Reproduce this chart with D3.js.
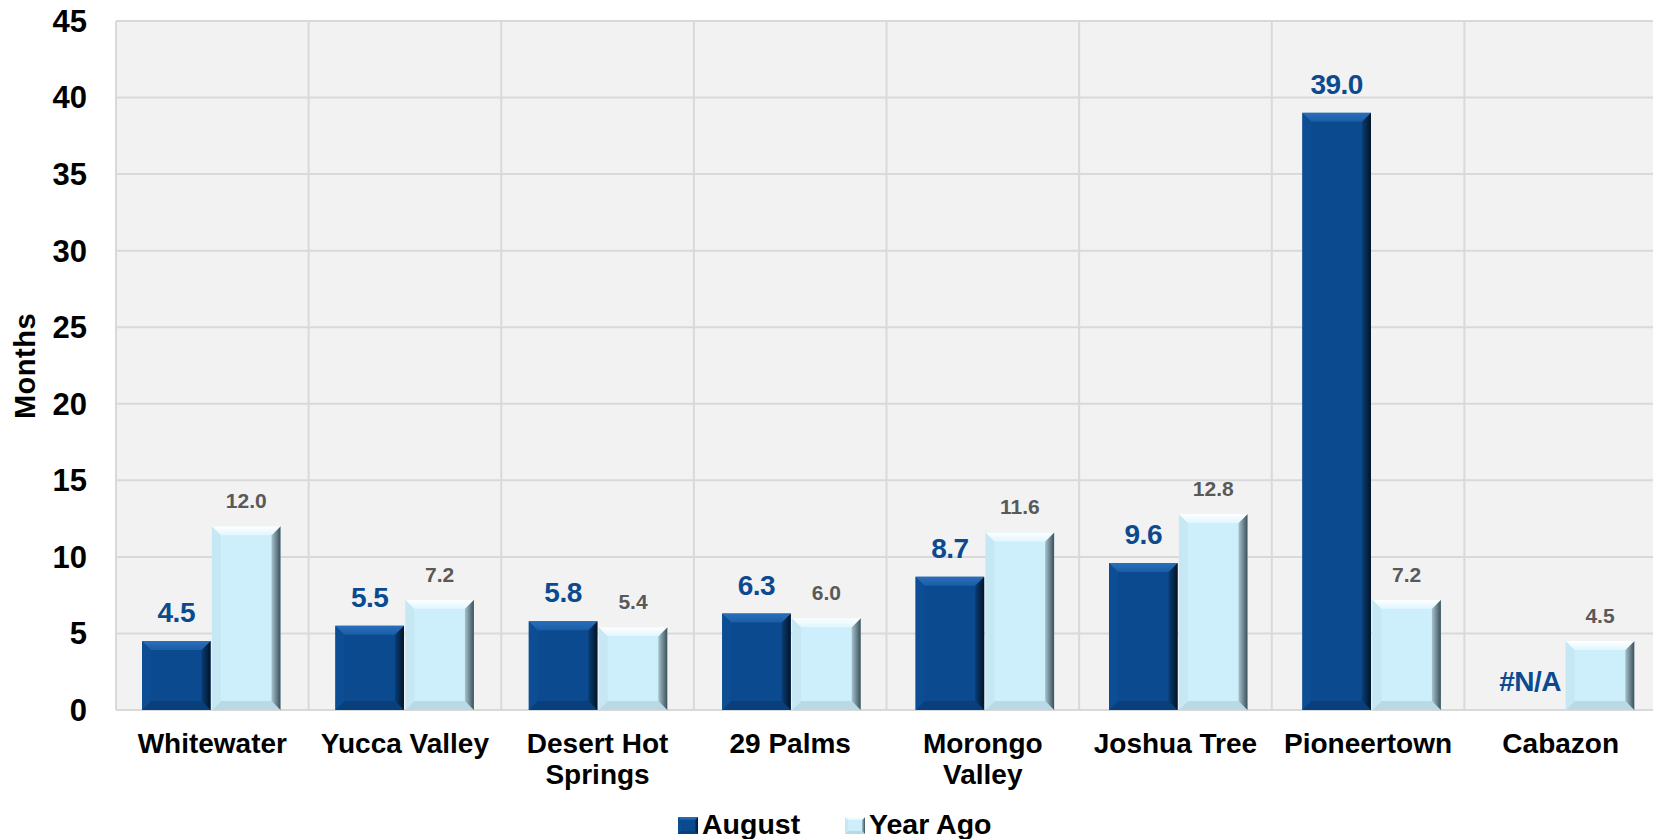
<!DOCTYPE html>
<html>
<head>
<meta charset="utf-8">
<script src="https://cdn.jsdelivr.net/npm/d3@7"></script>
<style>
  body { margin: 0; background: #fff; }
  svg { display: block; font-family: "Liberation Sans", Arial, sans-serif; font-weight: bold; }
</style>
</head>
<body>
<div id="chart"></div>
<script>
// chart data
const categories = ["Whitewater", "Yucca Valley", "Desert Hot Springs", "29 Palms", "Morongo Valley", "Joshua Tree", "Pioneertown", "Cabazon"];
const august = [4.5, 5.5, 5.8, 6.3, 8.7, 9.6, 39.0, null];
const yearAgo = [12.0, 7.2, 5.4, 6.0, 11.6, 12.8, 7.2, 4.5];
const seriesNames = ["August", "Year Ago"];
const yTicks = [0, 5, 10, 15, 20, 25, 30, 35, 40, 45];

const width = 1653, height = 839;
const plot = { left: 116, right: 1657, top: 21, bottom: 710 };

const palettes = {
    dark: { id: "dark", main: "#0b4a8f", left: "#0c4d93", bottom: "#093f7a",
            top: ["#2a6fbb", "#1a5da6"], right: ["#093d76", "#021427"], label: "#0b4a8f", size: 28 },
    light: { id: "light", main: "#cdeefb", left: "#c6e8f5", bottom: "#b9d9e5",
             top: ["#ffffff", "#e0f6fe"], right: ["#a6c3ce", "#3b5059"], label: "#595959", size: 21 }
};

const svg = d3.select("#chart").append("svg")
    .attr("width", width)
    .attr("height", height);

const defs = svg.append("defs");
Object.values(palettes).forEach(p => {
    const tg = defs.append("linearGradient").attr("id", "top-" + p.id)
        .attr("x1", 0).attr("y1", 0).attr("x2", 0).attr("y2", 1);
    tg.append("stop").attr("offset", "0%").attr("stop-color", p.top[0]);
    tg.append("stop").attr("offset", "100%").attr("stop-color", p.top[1]);
    const rg = defs.append("linearGradient").attr("id", "right-" + p.id)
        .attr("x1", 0).attr("y1", 0).attr("x2", 1).attr("y2", 0);
    rg.append("stop").attr("offset", "0%").attr("stop-color", p.right[0]);
    rg.append("stop").attr("offset", "100%").attr("stop-color", p.right[1]);
});

// gridline bands and bar bands drift apart slightly in the original
const x0 = d3.scaleBand().domain(categories).range([plot.left, plot.right]);
const xBars = d3.scaleBand().domain(categories).range([plot.left, plot.left + 8 * 193.4]);
const x1 = d3.scaleBand().domain(seriesNames).range([26, 164.5]).paddingInner(0.02);
const y = d3.scaleLinear().domain([0, 45]).range([plot.bottom, plot.top]);

// plot background
svg.append("rect")
    .attr("x", plot.left).attr("y", plot.top)
    .attr("width", plot.right - plot.left).attr("height", plot.bottom - plot.top)
    .attr("fill", "#f2f2f2");

// horizontal gridlines
svg.append("g").selectAll("line").data(yTicks).enter().append("line")
    .attr("x1", plot.left).attr("x2", plot.right)
    .attr("y1", d => y(d)).attr("y2", d => y(d))
    .attr("stroke", "#d9d9d9").attr("stroke-width", 2);

// vertical gridlines at category boundaries
svg.append("g").selectAll("line").data(categories).enter().append("line")
    .attr("x1", d => x0(d)).attr("x2", d => x0(d))
    .attr("y1", plot.top).attr("y2", plot.bottom)
    .attr("stroke", "#d9d9d9").attr("stroke-width", 2);

// y tick labels
svg.append("g").selectAll("text").data(yTicks).enter().append("text")
    .attr("x", 87).attr("y", d => y(d))
    .attr("dy", "0.35em")
    .attr("text-anchor", "end")
    .style("font-size", "31px")
    .attr("fill", "#000")
    .text(d => d);

// y axis title
svg.append("text")
    .attr("transform", "translate(35,366) rotate(-90)")
    .attr("text-anchor", "middle")
    .style("font-size", "29px")
    .style("letter-spacing", "0.5px")
    .attr("fill", "#000")
    .text("Months");

function bevelBar(sel, x, yTop, w, h, pal, b) {
    if (h <= 0) return;
    b = Math.min(b, h / 2, w / 2);
    const g = sel.append("g");
    const pts = a => a.map(p => p.join(",")).join(" ");
    g.append("rect").attr("x", x).attr("y", yTop).attr("width", w).attr("height", h).attr("fill", pal.main);
    g.append("polygon")
        .attr("points", pts([[x, yTop + h], [x + b, yTop + h - b], [x + w - b, yTop + h - b], [x + w, yTop + h]]))
        .attr("fill", pal.bottom);
    g.append("polygon")
        .attr("points", pts([[x, yTop], [x + b, yTop + b], [x + b, yTop + h - b], [x, yTop + h]]))
        .attr("fill", pal.left);
    g.append("polygon")
        .attr("points", pts([[x + w, yTop], [x + w, yTop + h], [x + w - b, yTop + h - b], [x + w - b, yTop + b]]))
        .attr("fill", "url(#right-" + pal.id + ")");
    g.append("polygon")
        .attr("points", pts([[x, yTop], [x + w, yTop], [x + w - b, yTop + b], [x + b, yTop + b]]))
        .attr("fill", "url(#top-" + pal.id + ")");
}

const series = [
    { name: "August", values: august, pal: palettes.dark },
    { name: "Year Ago", values: yearAgo, pal: palettes.light }
];

const barsG = svg.append("g");
const labelsG = svg.append("g");
series.forEach(s => {
    categories.forEach((c, i) => {
        const v = s.values[i];
        const bx = xBars(c) + x1(s.name);
        const bw = x1.bandwidth();
        if (v != null) {
            bevelBar(barsG, bx, y(v), bw, y(0) - y(v), s.pal, 9);
        }
        labelsG.append("text")
            .attr("x", bx + bw / 2)
            .attr("y", y(v == null ? 0 : v) - (s.name === "August" ? 19 : 18))
            .attr("text-anchor", "middle")
            .style("font-size", s.pal.size + "px")
            .attr("fill", s.pal.label)
            .style("letter-spacing", s.name === "August" ? "-0.5px" : "0px")
            .text(v == null ? "#N/A" : v.toFixed(1));
    });
});

// category labels, wrapped to the band width
const catG = svg.append("g");
categories.forEach(c => {
    const cx = x0(c) + x0.bandwidth() / 2;
    const t = catG.append("text")
        .attr("x", cx)
        .attr("y", 753)
        .attr("text-anchor", "middle")
        .style("font-size", "28px")
        .attr("fill", "#000");
    const words = c.split(" ");
    let line = [];
    let tspan = t.append("tspan").attr("x", cx).attr("dy", 0);
    words.forEach(w => {
        line.push(w);
        tspan.text(line.join(" "));
        if (tspan.node().getComputedTextLength() > 185 && line.length > 1) {
            line.pop();
            tspan.text(line.join(" "));
            line = [w];
            tspan = t.append("tspan").attr("x", cx).attr("dy", 31).text(w);
        }
    });
});

// legend
const legendX = [678, 845];
series.forEach((s, i) => {
    bevelBar(svg, legendX[i], 817, 20, 17, s.pal, 3);
    svg.append("text")
        .attr("x", legendX[i] + 24)
        .attr("y", 834)
        .style("font-size", "28.5px")
        .attr("fill", "#000")
        .text(s.name);
});
</script>
</body>
</html>
